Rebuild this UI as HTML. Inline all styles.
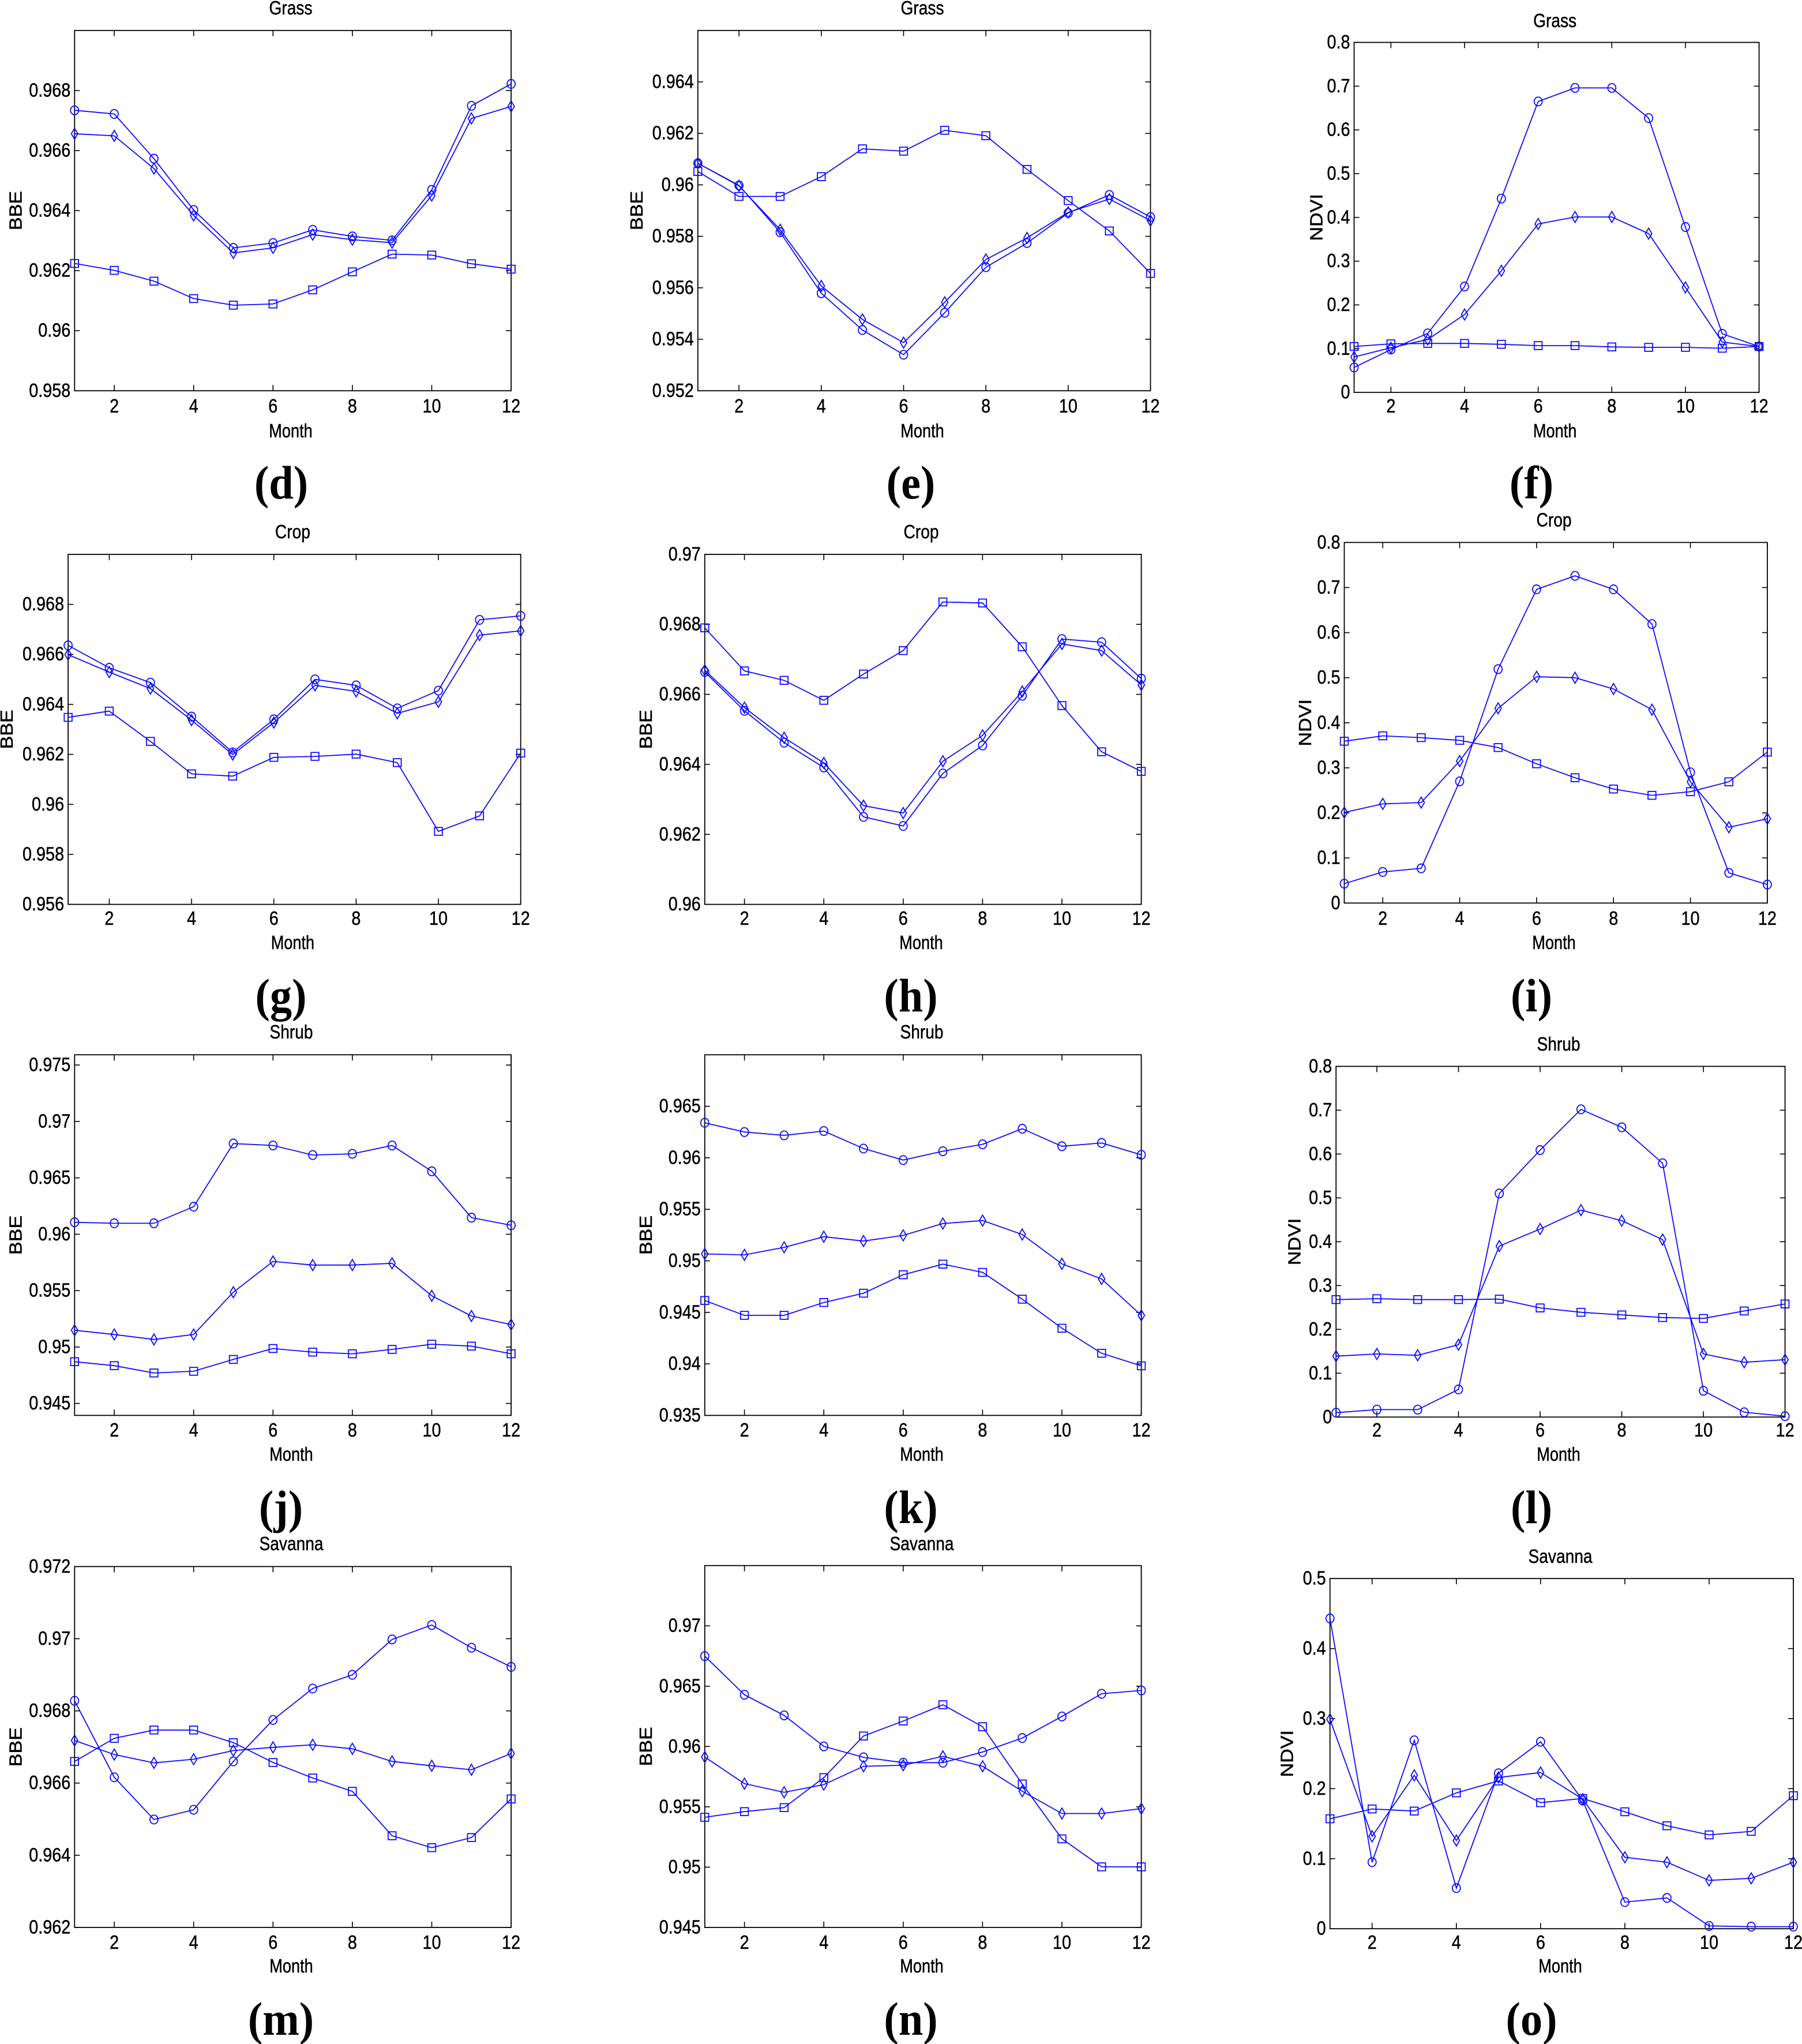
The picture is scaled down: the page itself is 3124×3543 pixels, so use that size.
<!DOCTYPE html>
<html lang="en">
<head>
<meta charset="utf-8">
<title>Monthly BBE and NDVI by land cover</title>
<style>
html,body{margin:0;padding:0;background:#fff;width:3124px;height:3543px;overflow:hidden}
svg{display:block}
text{font-family:"Liberation Sans",Arial,sans-serif;fill:#000;stroke:#000;stroke-width:.5px}
.cap{font-family:"Liberation Serif","Times New Roman",serif;font-weight:bold;stroke:none}
</style>
</head>
<body>
<svg id="figure" xmlns="http://www.w3.org/2000/svg" width="3124" height="3543" viewBox="0 0 3124 3543"></svg>
<script>
const months = [1,2,3,4,5,6,7,8,9,10,11,12];
const xTickLabels = ['2','4','6','8','10','12'];

const dCircle = [.96734,.96722,.96573,.96402,.96276,.96292,.96336,.96314,.96301,.96469,.96749,.96822];
const dDiamond = [.96656,.96649,.9654,.96384,.96259,.96276,.9632,.96303,.96293,.9645,.96707,.96747];
const dSquare = [.96224,.96201,.96165,.96107,.96085,.96089,.96136,.96196,.96255,.96252,.96223,.96205];
const dYTicks = ['0.958','0.96','0.962','0.964','0.966','0.968'];
const dYRange = [.958,.97];

const eCircle = [.96084,.95998,.95816,.95579,.95436,.9534,.95503,.9568,.95774,.95891,.95961,.95875];
const eDiamond = [.96084,.95996,.95826,.95607,.95477,.95387,.95544,.9571,.95794,.95893,.95945,.95861];
const eSquare = [.96052,.95955,.95955,.96032,.9614,.96131,.96212,.96191,.9606,.95939,.95821,.95656];
const eYTicks = ['0.952','0.954','0.956','0.958','0.96','0.962','0.964'];
const eYRange = [.952,.966];

const fCircle = [.057,.098,.135,.242,.443,.665,.696,.696,.627,.378,.134,.105];
const fDiamond = [.081,.102,.121,.178,.278,.385,.401,.401,.363,.24,.115,.105];
const fSquare = [.105,.111,.112,.112,.11,.107,.107,.104,.103,.103,.101,.105];
const fYTicks = ['0','0.1','0.2','0.3','0.4','0.5','0.6','0.7','0.8'];
const fYRange = [0,.8];

const gCircle = [.96636,.96546,.96487,.96351,.96208,.9634,.965,.96476,.96384,.96455,.96738,.96754];
const gDiamond = [.96599,.96529,.96463,.96337,.96199,.96327,.96476,.96452,.96364,.9641,.96677,.96694];
const gSquare = [.96348,.96373,.96252,.96122,.96113,.96188,.96192,.96201,.96167,.95892,.95954,.96205];
const gYTicks = ['0.956','0.958','0.96','0.962','0.964','0.966','0.968'];
const gYRange = [.956,.97];

const hCircle = [.96664,.96553,.96462,.96391,.9625,.96224,.96374,.96454,.96596,.96758,.96749,.96645];
const hDiamond = [.96669,.96562,.96476,.96404,.96282,.96261,.96409,.96483,.96608,.96744,.96725,.96627];
const hSquare = [.9679,.96667,.9664,.96583,.96658,.96725,.96864,.96861,.96736,.96568,.96436,.9638];
const hYTicks = ['0.96','0.962','0.964','0.966','0.968','0.97'];
const hYRange = [.96,.97];

const iCircle = [.043,.069,.077,.27,.519,.696,.726,.696,.619,.29,.067,.041];
const iDiamond = [.201,.22,.223,.315,.432,.502,.5,.475,.429,.269,.168,.187];
const iSquare = [.359,.371,.367,.361,.345,.309,.278,.253,.239,.247,.269,.335];
const iYTicks = ['0','0.1','0.2','0.3','0.4','0.5','0.6','0.7','0.8'];
const iYRange = [0,.8];

const jCircle = [.96106,.96097,.96097,.96244,.96804,.96787,.96702,.96713,.96787,.96558,.96147,.96079];
const jDiamond = [.95149,.95111,.95067,.95111,.95486,.95759,.95727,.95727,.95742,.95454,.95275,.95199];
const jSquare = [.9487,.94835,.9477,.94785,.9489,.94987,.94955,.9494,.94979,.95025,.95008,.9494];
const jYTicks = ['0.945','0.95','0.955','0.96','0.965','0.97','0.975'];
const jYRange = [.94394,.97591];

const kCircle = [.9634,.9625,.96218,.9626,.9609,.95978,.96064,.96131,.96282,.96112,.96144,.96029];
const kDiamond = [.95067,.95058,.95131,.95234,.95192,.95247,.95362,.95391,.95256,.94971,.94824,.94471];
const kSquare = [.94615,.94471,.94471,.94596,.94686,.94865,.94968,.94888,.94628,.94346,.94103,.93981];
const kYTicks = ['0.935','0.94','0.945','0.95','0.955','0.96','0.965'];
const kYRange = [.935,.97];

const lCircle = [.01,.017,.017,.063,.51,.609,.702,.661,.579,.06,.011,.002];
const lDiamond = [.139,.144,.141,.165,.39,.429,.472,.448,.405,.144,.125,.131];
const lSquare = [.268,.27,.268,.268,.269,.249,.239,.233,.227,.225,.242,.258];
const lYTicks = ['0','0.1','0.2','0.3','0.4','0.5','0.6','0.7','0.8'];
const lYRange = [0,.8];

const mCircle = [.96828,.96616,.96499,.96526,.9666,.96775,.96862,.969,.96998,.97038,.96975,.96922];
const mDiamond = [.96718,.96679,.96656,.96666,.9669,.96699,.96706,.96695,.9666,.96648,.96637,.96682];
const mSquare = [.9666,.96724,.96747,.96747,.96712,.96657,.96614,.96577,.96454,.96421,.96449,.96556];
const mYTicks = ['0.962','0.964','0.966','0.968','0.97','0.972'];
const mYRange = [.962,.972];

const nCircle = [.96749,.96429,.96258,.96001,.9591,.95866,.95866,.95954,.9607,.96249,.96437,.96465];
const nDiamond = [.95913,.95692,.9562,.95684,.95836,.95844,.95918,.95836,.95629,.95444,.95444,.95485];
const nSquare = [.95413,.9546,.95493,.95742,.96087,.96211,.96346,.96164,.95689,.95234,.95002,.95002];
const nYTicks = ['0.945','0.95','0.955','0.96','0.965','0.97'];
const nYRange = [.945,.975];

const oCircle = [.443,.095,.269,.058,.222,.267,.183,.038,.044,.004,.003,.003];
const oDiamond = [.299,.132,.219,.126,.216,.223,.185,.102,.095,.069,.072,.095];
const oSquare = [.157,.171,.168,.194,.211,.18,.186,.167,.147,.134,.139,.19];
const oYTicks = ['0','0.1','0.2','0.3','0.4','0.5'];
const oYRange = [0,.5];

/* layout only: frame, label anchors */
const panels = [
 {id:'d',title:'Grass',yLabel:'BBE',c:dCircle,di:dDiamond,s:dSquare,t:dYTicks,r:dYRange,L:129.3,R:886.1,T:52.8,B:677.3,tx:504,ty:25,lx:26.5,mb:758,xb:715,cx:487.5,cb:864},
 {id:'e',title:'Grass',yLabel:'BBE',c:eCircle,di:eDiamond,s:eSquare,t:eYTicks,r:eYRange,L:1209.8,R:1994.5,T:52.8,B:677.3,tx:1599,ty:25,lx:1103,mb:758,xb:715,cx:1579,cb:864},
 {id:'f',title:'Grass',yLabel:'NDVI',c:fCircle,di:fDiamond,s:fSquare,t:fYTicks,r:fYRange,L:2347.5,R:3049.6,T:73.5,B:680.2,tx:2695.6,ty:47,lx:2281.6,mb:758,xb:715,cx:2655,cb:864},
 {id:'g',title:'Crop',yLabel:'BBE',c:gCircle,di:gDiamond,s:gSquare,t:gYTicks,r:gYRange,L:118.1,R:902.7,T:960.9,B:1567.6,tx:507.4,ty:933,lx:11,mb:1645,xb:1603,cx:487,cb:1753},
 {id:'h',title:'Crop',yLabel:'BBE',c:hCircle,di:hDiamond,s:hSquare,t:hYTicks,r:hYRange,L:1221.8,R:1978.6,T:960.9,B:1567.6,tx:1597,ty:933,lx:1119,mb:1645,xb:1603,cx:1579,cb:1753},
 {id:'i',title:'Crop',yLabel:'NDVI',c:iCircle,di:iDiamond,s:iSquare,t:iYTicks,r:iYRange,L:2330.5,R:3063.9,T:940.3,B:1565.3,tx:2694,ty:912.7,lx:2262,mb:1645,xb:1603,cx:2655,cb:1753},
 {id:'j',title:'Shrub',yLabel:'BBE',c:jCircle,di:jDiamond,s:jSquare,t:jYTicks,r:jYRange,L:129.3,R:886.1,T:1828.3,B:2453.4,tx:505,ty:1800,lx:26.5,mb:2532,xb:2490,cx:487,cb:2640},
 {id:'k',title:'Shrub',yLabel:'BBE',c:kCircle,di:kDiamond,s:kSquare,t:kYTicks,r:kYRange,L:1221.8,R:1978.6,T:1828.3,B:2453.4,tx:1598,ty:1800,lx:1119,mb:2532,xb:2490,cx:1579,cb:2640},
 {id:'l',title:'Shrub',yLabel:'NDVI',c:lCircle,di:lDiamond,s:lSquare,t:lYTicks,r:lYRange,L:2316.2,R:3094.6,T:1848.4,B:2456.3,tx:2702,ty:1821,lx:2243.7,mb:2532,xb:2490,cx:2655,cb:2640},
 {id:'m',title:'Savanna',yLabel:'BBE',c:mCircle,di:mDiamond,s:mSquare,t:mYTicks,r:mYRange,L:129.3,R:886.1,T:2715.4,B:3340.9,tx:505,ty:2687,lx:26.5,mb:3419,xb:3378,cx:487,cb:3527},
 {id:'n',title:'Savanna',yLabel:'BBE',c:nCircle,di:nDiamond,s:nSquare,t:nYTicks,r:nYRange,L:1221.8,R:1978.6,T:2713.7,B:3340.9,tx:1598,ty:2687,lx:1119,mb:3419,xb:3378,cx:1579,cb:3527},
 {id:'o',title:'Savanna',yLabel:'NDVI',c:oCircle,di:oDiamond,s:oSquare,t:oYTicks,r:oYRange,L:2305.7,R:3109,T:2736.2,B:3343.2,tx:2705,ty:2709,lx:2230.6,mb:3419,xb:3378,cx:2655,cb:3527}
];

const NS = 'http://www.w3.org/2000/svg';
const BLUE = '#0a0aff';
const root = document.getElementById('figure');

function make(tag, parent, name, attrs) {
  const el = document.createElementNS(NS, tag);
  
  
  for (const k in attrs) { el.setAttribute(k, attrs[k]); }
  parent.appendChild(el);
  return el;
}

function label(parent, name, str, x, y, anchor, sx, size) {
  const el = make('text', parent, name, {
    transform: 'translate(' + x + ' ' + y + ') scale(' + sx + ' 1)',
    'text-anchor': anchor,
    'font-size': size
  });
  el.textContent = str;
  return el;
}

function drawPanel(p) {
  const g = make('g', root, 'panel-' + p.id, {});
  const xs = m => p.L + (m - months[0]) / (months[months.length - 1] - months[0]) * (p.R - p.L);
  const ys = v => p.B - (v - p.r[0]) / (p.r[1] - p.r[0]) * (p.B - p.T);

  label(g, 'chart-title', p.title, p.tx, p.ty, 'middle', .84, 33.5);
  label(g, 'x-axis-title', 'Month', p.tx, p.mb, 'middle', .81, 33.5);

  const yTitle = make('text', g, 'y-axis-title', {
    transform: 'translate(' + p.lx + ' ' + ((p.T + p.B) / 2) + ') rotate(-90) translate(0 11) scale(1.1 1)',
    'text-anchor': 'middle',
    'font-size': 31
  });
  yTitle.textContent = p.yLabel;

  make('rect', g, 'plot-frame', {x: p.L, y: p.T, width: p.R - p.L, height: p.B - p.T, fill: 'none', stroke: '#000', 'stroke-width': 1.8});

  xTickLabels.forEach(t => {
    const x = xs(parseFloat(t));
    make('line', g, 'x-tick-bottom', {x1: x, x2: x, y1: p.B, y2: p.B - 10, stroke: '#000', 'stroke-width': 1.6});
    make('line', g, 'x-tick-top', {x1: x, x2: x, y1: p.T, y2: p.T + 10, stroke: '#000', 'stroke-width': 1.6});
    label(g, 'x-tick-label', t, x, p.xb, 'middle', .86, 33.5);
  });

  p.t.forEach(t => {
    const y = ys(parseFloat(t));
    make('line', g, 'y-tick-left', {x1: p.L, x2: p.L + 9, y1: y, y2: y, stroke: '#000', 'stroke-width': 1.6});
    make('line', g, 'y-tick-right', {x1: p.R, x2: p.R - 9, y1: y, y2: y, stroke: '#000', 'stroke-width': 1.6});
    label(g, 'y-tick-label', t, p.L - 7, y + 10.5, 'end', .86, 33.5);
  });

  [['circle', p.c], ['diamond', p.di], ['square', p.s]].forEach(([kind, vals]) => {
    const sg = make('g', g, 'series-' + kind, {fill: 'none', stroke: BLUE, 'stroke-width': 1.8});
    make('polyline', sg, 'series-line', {
      points: vals.map((v, i) => xs(months[i]).toFixed(1) + ',' + ys(v).toFixed(1)).join(' ')
    });
    vals.forEach((v, i) => {
      const x = xs(months[i]), y = ys(v);
      if (kind === 'circle') {
        make('ellipse', sg, 'circle-marker', {cx: x, cy: y, rx: 7, ry: 7.6});
      } else if (kind === 'square') {
        make('rect', sg, 'square-marker', {x: x - 6.8, y: y - 6.8, width: 13.6, height: 13.6});
      } else {
        make('polygon', sg, 'diamond-marker', {
          points: [[x, y - 9.5], [x + 5.6, y], [x, y + 9.5], [x - 5.6, y]].map(q => q[0].toFixed(1) + ',' + q[1].toFixed(1)).join(' ')
        });
      }
    });
  });

  const cap = label(g, 'panel-letter', '(' + p.id + ')', p.cx, p.cb, 'middle', .93, 82);
  cap.setAttribute('class', 'cap');
}

panels.forEach(drawPanel);
</script>
</body>
</html>
